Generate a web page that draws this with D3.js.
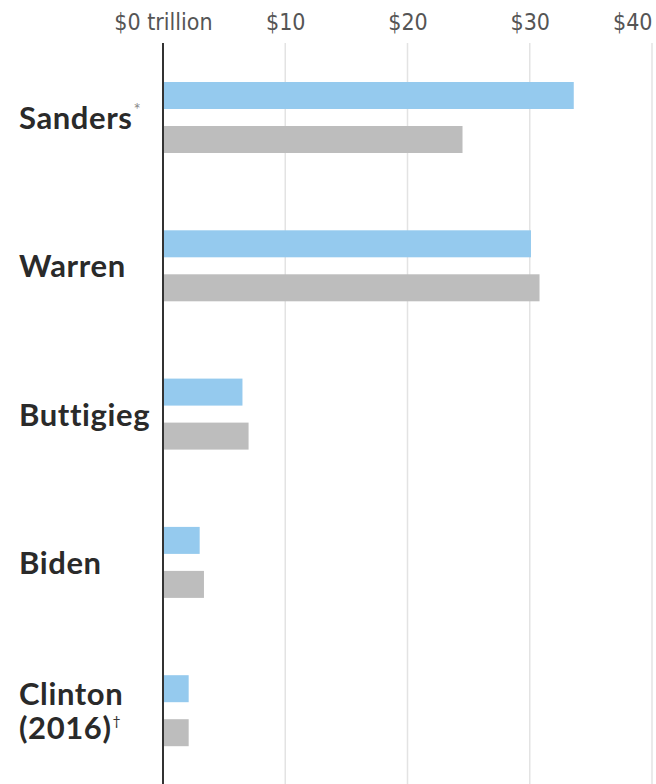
<!DOCTYPE html>
<html>
<head>
<meta charset="utf-8">
<script src="https://cdn.jsdelivr.net/npm/d3@7"></script>
<style>
  body { margin: 0; background: #fff; }
  .tick text { font-family: "DejaVu Sans Condensed", "DejaVu Sans", sans-serif; font-stretch: condensed; }
</style>
</head>
<body>
<div id="chart"></div>
<script>
var candidates = ["Sanders", "Warren", "Buttigieg", "Biden", "Clinton"];
var labelLines = [["Sanders", "*"], ["Warren", ""], ["Buttigieg", ""], ["Biden", ""], ["Clinton", "", "(2016)", "\u2020"]];
var seriesA = [33.6, 30.1, 6.5, 3.0, 2.1];
var seriesB = [24.5, 30.8, 7.0, 3.35, 2.1];
var tickValues = [0, 10, 20, 30, 40];
var tickLabels = ["$0 trillion", "$10", "$20", "$30", "$40"];

var W = 656, H = 784;

var svg = d3.select("#chart").append("svg")
  .attr("width", W).attr("height", H);

var x = d3.scaleLinear().domain([0, 40]).range([163, 652]);

var y = d3.scaleBand()
  .domain(candidates)
  .range([82, 82 + 148.3 * 5]);

// gridlines
svg.selectAll("line.grid")
  .data(tickValues.slice(1))
  .enter().append("line")
    .attr("x1", function(d) { return x(d); })
    .attr("x2", function(d) { return x(d); })
    .attr("y1", 43).attr("y2", H)
    .attr("stroke", "#e3e3e3").attr("stroke-width", 1.5);

// top axis labels
var axis = svg.append("g")
  .attr("transform", "translate(0,30)")
  .call(d3.axisTop(x).tickValues(tickValues).tickSize(0).tickFormat(function(d, i) { return tickLabels[i]; }));
axis.select(".domain").remove();
axis.selectAll("text")
  .attr("fill", "#555")
  .style("font-size", "23px")
  .attr("y", 0)
  .attr("dy", 0);
axis.selectAll("text")
  .filter(function(d) { return d === 40; })
  .attr("text-anchor", "end");

var barH = 27, gap = 17;

svg.selectAll("rect.a")
  .data(seriesA)
  .enter().append("rect")
    .attr("x", x(0))
    .attr("y", function(d, i) { return y(candidates[i]); })
    .attr("width", function(d) { return x(d) - x(0); })
    .attr("height", barH)
    .attr("fill", "#95caee");

svg.selectAll("rect.b")
  .data(seriesB)
  .enter().append("rect")
    .attr("x", x(0))
    .attr("y", function(d, i) { return y(candidates[i]) + barH + gap; })
    .attr("width", function(d) { return x(d) - x(0); })
    .attr("height", barH)
    .attr("fill", "#bdbdbd");

// zero line
svg.append("line")
  .attr("x1", x(0)).attr("x2", x(0))
  .attr("y1", 43).attr("y2", H)
  .attr("stroke", "#333").attr("stroke-width", 2);

// category labels
candidates.forEach(function(c, i) {
  var parts = labelLines[i];
  var nLines = parts.length / 2;
  var cy = y(c) + barH + gap / 2;
  for (var k = 0; k < nLines; k++) {
    var t = svg.append("text")
      .attr("x", 19)
      .attr("y", cy + 11.5 + (k - (nLines - 1) / 2) * 34)
      .attr("fill", "#2a2a2a")
      .style("font-family", "Lato, sans-serif")
      .style("font-weight", "bold")
      .style("font-size", "31px")
      .style("letter-spacing", "0.6px")
      .text(parts[k * 2]);
    if (parts[k * 2 + 1]) {
      var sym = parts[k * 2 + 1];
      t.append("tspan")
        .attr("dx", 1)
        .attr("dy", sym === "*" ? -13 : -13)
        .style("font-size", sym === "*" ? "17px" : "14px")
        .style("font-weight", "normal")
        .style("letter-spacing", "0px")
        .attr("fill", sym === "*" ? "#8a8a8a" : "#333")
        .text(sym);
    }
  }
});
</script>
</body>
</html>
